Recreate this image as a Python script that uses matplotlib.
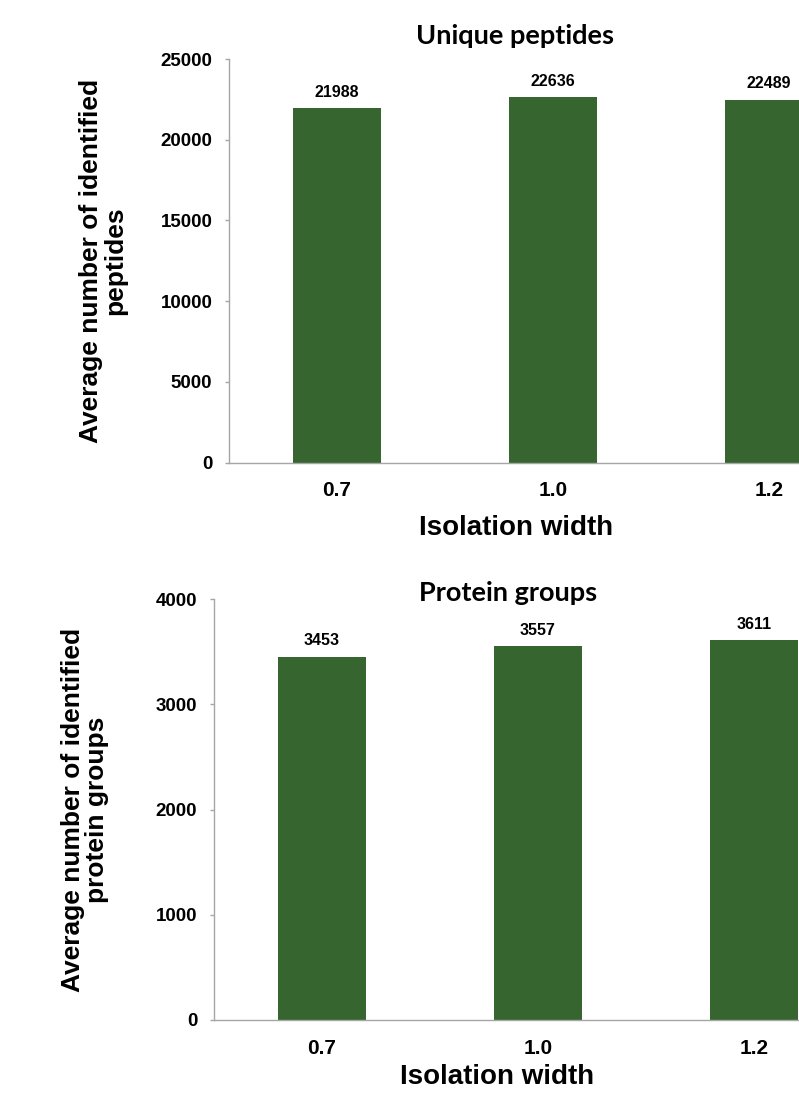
import matplotlib
matplotlib.use("Agg")
import matplotlib.pyplot as plt

# Data
categories = ["0.7", "1.0", "1.2"]
peptides = [21988, 22636, 22489]
protein_groups = [3453, 3557, 3611]
peptide_ticks = [0, 5000, 10000, 15000, 20000, 25000]
protein_ticks = [0, 1000, 2000, 3000, 4000]

W, H = 799, 1094
BAR_COLOR = "#36652f"
AXIS_COLOR = "#a6a6a6"
FONT = "Liberation Sans"
TITLE_FONT = "Lato"

fig = plt.figure(figsize=(W / 100, H / 100), dpi=100)


def fx(x):
    return x / W


def fy(y):
    return 1 - y / H


def panel(left, top, bottom, values, ticks, ymax, title, ylabel,
          title_xy, xlabel_xy, ylabel_xy, xpad):
    width = 3 * 216
    ax = fig.add_axes([fx(left), fy(bottom), width / W, (bottom - top) / H])
    x = range(len(categories))
    bars = ax.bar(x, values, width=0.41, color=BAR_COLOR, zorder=2)
    ax.set_xlim(-0.5, 2.5)
    ax.set_ylim(0, ymax)
    ax.set_yticks(ticks)
    ax.set_yticklabels([str(t) for t in ticks], fontfamily=FONT,
                       fontweight="bold", fontsize=13.5)
    ax.set_xticks(list(x))
    ax.set_xticklabels(categories, fontfamily=FONT, fontweight="bold",
                       fontsize=15)
    for s in ("top", "right"):
        ax.spines[s].set_visible(False)
    for s in ("left", "bottom"):
        ax.spines[s].set_color(AXIS_COLOR)
        ax.spines[s].set_linewidth(1.0)
    ax.tick_params(axis="y", direction="out", length=3, width=1.0,
                   color=AXIS_COLOR, pad=9)
    ax.tick_params(axis="x", length=0, pad=xpad)
    for b, v in zip(bars, values):
        ax.annotate(str(v), (b.get_x() + b.get_width() / 2, v),
                    xytext=(0, 8), textcoords="offset points",
                    ha="center", va="baseline", fontfamily=FONT,
                    fontweight="bold", fontsize=11.5)
    fig.text(fx(title_xy[0]), fy(title_xy[1]), title, ha="center",
             va="center", fontfamily=TITLE_FONT, fontweight="bold",
             fontsize=19.5)
    fig.text(fx(xlabel_xy[0]), fy(xlabel_xy[1]), "Isolation width",
             ha="center", va="center", fontfamily=FONT, fontweight="bold",
             fontsize=20)
    fig.text(fx(ylabel_xy[0]), fy(ylabel_xy[1]), ylabel, ha="center",
             va="center", rotation=90, fontfamily=FONT, fontweight="bold",
             fontsize=19, linespacing=1.0)
    return ax


panel(229, 59, 462.7, peptides, peptide_ticks, 25000, "Unique peptides",
      "Average number of identified\npeptides",
      (515, 36), (516, 528), (103, 261), 13)

panel(214, 599, 1020, protein_groups, protein_ticks, 4000, "Protein groups",
      "Average number of identified\nprotein groups",
      (508, 593), (497, 1077), (85, 810), 14)

fig.savefig("out.png", dpi=100)
